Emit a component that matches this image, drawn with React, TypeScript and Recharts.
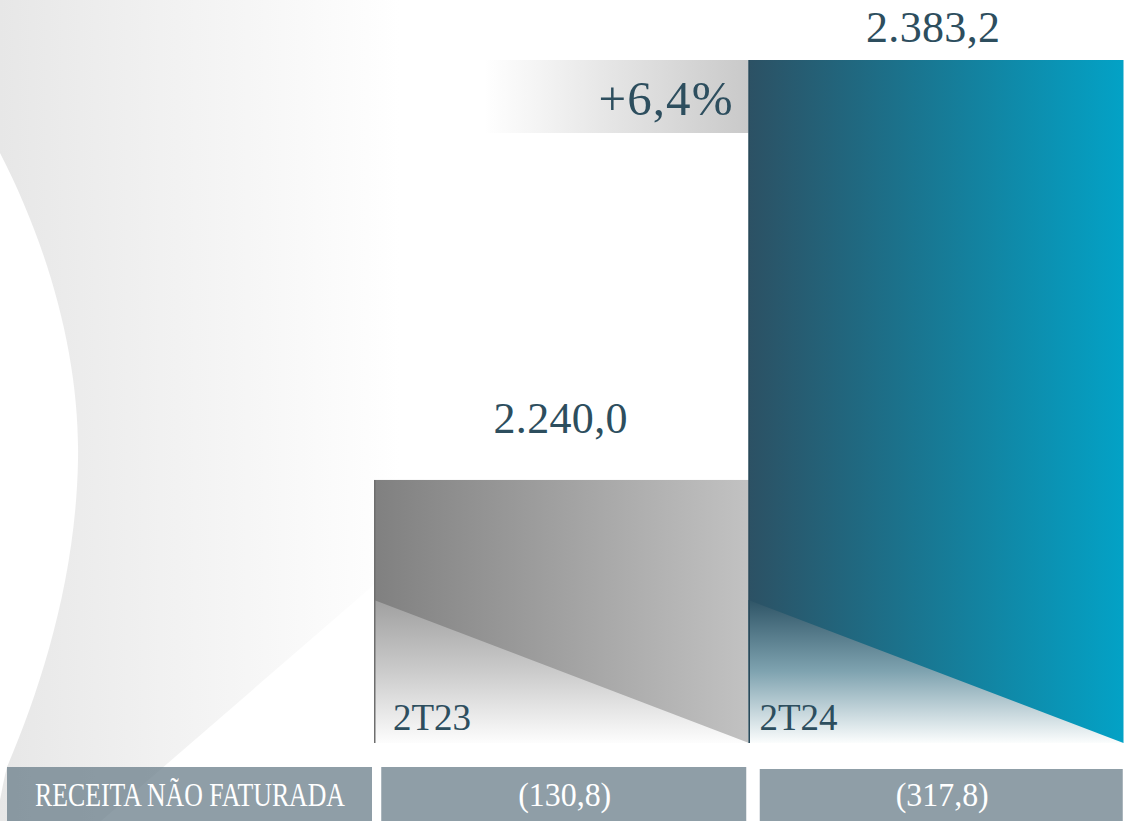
import React from 'react';
import { BarChart, Bar, XAxis, YAxis, LabelList } from 'recharts';

// ---- data ----
const categories = ['2T23', '2T24'];
const revenue = [2240.0, 2383.2];
const unbilled = [-130.8, -317.8];
const rowTitle = 'RECEITA NÃO FATURADA';
const yDomain = [2150.3, 2383.2];

const data = categories.map((cat, i) => ({ cat, revenue: revenue[i], unbilled: unbilled[i] }));

// ---- formatting ----
const fmt = (v: number) => {
  const [i, d] = Math.abs(v).toFixed(1).split('.');
  const int = i.replace(/\B(?=(\d{3})+(?!\d))/g, '.');
  return `${int},${d}`;
};
const growth = (revenue[1] / revenue[0] - 1) * 100;
const growthLabel = `+${growth.toFixed(1).replace('.', ',')}%`;

const W = 1127;
const H = 821;
const FONT = "'Liberation Serif', 'Times New Roman', serif";
const TEXT = '#2d4e5e';
const ROW_TOP = 767;
const fontStyle = { fontFamily: FONT };

const BarShape = (props: any) => {
  const { x, y, width, height, index } = props;
  const bottom = y + height;
  const triTop = bottom - 143;
  const edge = index === 1 ? '#2a4a5a' : '#6e6e6e';
  return (
    <g>
      {index === 1 && (
        <g>
          <rect x={x - 264} y={y} width={264} height={73} fill="url(#growthGrad)" />
          <text x={x - 16} y={y + 55} textAnchor="end" style={fontStyle} fontSize={49} fill={TEXT}
            textLength={134} lengthAdjust="spacing">
            {growthLabel}
          </text>
        </g>
      )}
      <rect x={x} y={y} width={width} height={height} fill={`url(#barH${index})`} />
      <polygon
        points={`${x},${triTop} ${x + width},${bottom} ${x},${bottom}`}
        fill={`url(#triV${index})`}
      />
      <line x1={x + 0.75} x2={x + 0.75} y1={y} y2={bottom} stroke={edge} strokeWidth={1.5} />
      <text x={x + (index === 1 ? 11 : 19)} y={bottom - 13} style={fontStyle} fontSize={37} fill={TEXT}>
        {categories[index]}
      </text>
    </g>
  );
};

const ValueLabel = (props: any) => {
  const { x, y, width, index, value } = props;
  return (
    <text
      x={x + width / 2 - (index === 1 ? 3 : 1)}
      y={y - (index === 1 ? 18 : 47)}
      textAnchor="middle"
      style={fontStyle}
      fontSize={44}
      fill={TEXT}
      textLength={134}
      lengthAdjust="spacing"
    >
      {fmt(value)}
    </text>
  );
};

const UnbilledTick = (props: any) => {
  const { x, payload } = props;
  const i = payload.index;
  const left = i === 1 ? x - 176 : x - 180;
  const w = i === 1 ? 363 : 365;
  const top = i === 1 ? ROW_TOP + 2 : ROW_TOP;
  return (
    <g>
      <rect x={left} y={top} width={w} height={H - top} fill="#6a7e8a" fillOpacity={0.75} />
      <text
        x={left + w / 2 + 1}
        y={806}
        textAnchor="middle"
        style={fontStyle}
        fontSize={34}
        fill="#ffffff"
        textLength={93}
        lengthAdjust="spacingAndGlyphs"
      >
        {`(${fmt(unbilled[i])})`}
      </text>
    </g>
  );
};

const Background = () => (
  <svg width={W} height={H} style={{ position: 'absolute', left: 0, top: 0 }}>
    <defs>
      <linearGradient id="bgGrad" x1="0" y1="0" x2="400" y2="0" gradientUnits="userSpaceOnUse">
        <stop offset="0" stopColor="#e7e7e7" />
        <stop offset="0.4" stopColor="#f1f1f1" />
        <stop offset="0.75" stopColor="#f9f9f9" />
        <stop offset="1" stopColor="#ffffff" />
      </linearGradient>
    </defs>
    <path
      d="M0,0 L420,0 L420,545 L101,821 L0,821 L0,800 C2,790 4,778 7,767 C40,690 76,580 78,460 C80,360 50,250 0,153 Z"
      fill="url(#bgGrad)"
    />
    <rect x={7} y={ROW_TOP} width={365} height={H - ROW_TOP} fill="#6a7e8a" fillOpacity={0.75} />
    <text
      x={35}
      y={806}
      style={fontStyle}
      fontSize={34}
      fill="#ffffff"
      textLength={310}
      lengthAdjust="spacingAndGlyphs"
    >
      {rowTitle}
    </text>
  </svg>
);

export default function App() {
  return (
    <div style={{ position: 'absolute', left: 0, top: 0, width: W, height: H, background: '#ffffff', overflow: 'hidden', fontFamily: FONT }}>
      <Background />
      <div style={{ position: 'absolute', left: 0, top: 0 }}>
        <BarChart
          width={W}
          height={H}
          data={data}
          margin={{ top: 60, right: 4, left: 374, bottom: 0 }}
          barCategoryGap={0}
          barGap={0}
          style={fontStyle}
        >
          <defs>
            <linearGradient id="barH0" x1="0" y1="0" x2="1" y2="0">
              <stop offset="0" stopColor="#808080" />
              <stop offset="1" stopColor="#c2c2c2" />
            </linearGradient>
            <linearGradient id="barH1" x1="0" y1="0" x2="1" y2="0">
              <stop offset="0" stopColor="#2c5164" />
              <stop offset="1" stopColor="#03a2c6" />
            </linearGradient>
            <linearGradient id="triV0" x1="0" y1="0" x2="0" y2="1">
              <stop offset="0" stopColor="#a0a0a0" />
              <stop offset="0.5" stopColor="#cbcbcb" />
              <stop offset="1" stopColor="#fdfdfd" />
            </linearGradient>
            <linearGradient id="triV1" x1="0" y1="0" x2="0" y2="1">
              <stop offset="0" stopColor="#2f5567" />
              <stop offset="0.5" stopColor="#7fa3b0" />
              <stop offset="1" stopColor="#fbfdfd" />
            </linearGradient>
            <linearGradient id="growthGrad" x1="0" y1="0" x2="1" y2="0">
              <stop offset="0" stopColor="#ffffff" />
              <stop offset="1" stopColor="#c9c9c9" />
            </linearGradient>
          </defs>
          <XAxis
            dataKey="cat"
            height={78}
            axisLine={false}
            tickLine={false}
            interval={0}
            tick={(p: any) => <UnbilledTick {...p} />}
          />
          <YAxis hide domain={yDomain} allowDataOverflow />
          <Bar dataKey="revenue" isAnimationActive={false} shape={(p: any) => <BarShape {...p} />}>
            <LabelList dataKey="revenue" content={(p: any) => <ValueLabel {...p} />} />
          </Bar>
        </BarChart>
      </div>
    </div>
  );
}
